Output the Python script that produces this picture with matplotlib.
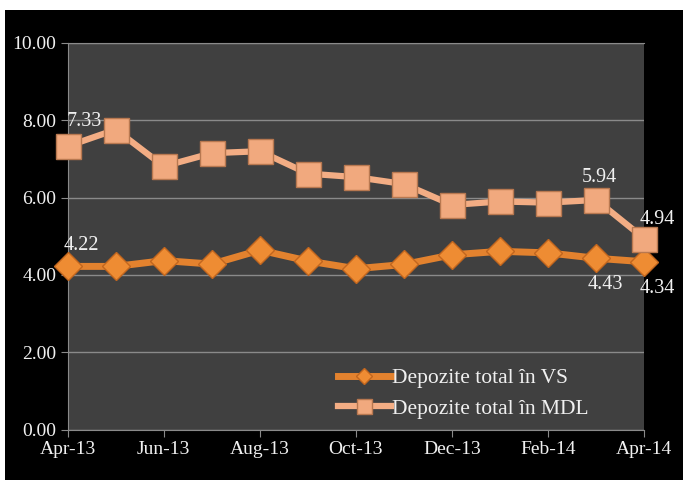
import matplotlib
matplotlib.use("Agg")
import matplotlib.pyplot as plt
from matplotlib.patches import Rectangle

months = ["Apr-13", "May-13", "Jun-13", "Jul-13", "Aug-13", "Sep-13", "Oct-13",
          "Nov-13", "Dec-13", "Jan-14", "Feb-14", "Mar-14", "Apr-14"]
vs_values = [4.22, 4.22, 4.37, 4.28, 4.64, 4.36, 4.16, 4.27, 4.52, 4.61, 4.57, 4.43, 4.34]
mdl_values = [7.33, 7.76, 6.81, 7.15, 7.20, 6.62, 6.53, 6.35, 5.81, 5.90, 5.87, 5.94, 4.94]
series_names = ["Depozite total în VS", "Depozite total în MDL"]
y_ticks = [0, 2, 4, 6, 8, 10]
y_tick_labels = ["0.00", "2.00", "4.00", "6.00", "8.00", "10.00"]

plt.rcParams['font.family'] = ['Liberation Serif', 'DejaVu Serif']

W, H = 683, 480
fig = plt.figure(figsize=(W / 100, H / 100), dpi=100, facecolor='white')
fig.patches.append(Rectangle((5 / W, 0), (W - 5) / W, (H - 10) / H,
                             transform=fig.transFigure, facecolor='black',
                             edgecolor='none', zorder=-10))

ax = fig.add_axes([67.7 / W, (H - 429.5) / H, (644.3 - 67.7) / W, (429.5 - 43) / H])
ax.set_facecolor('#404040')

x = list(range(len(months)))
text_col = '#f0f0f0'

ax.plot(x, vs_values, color='#E3822E', lw=5, marker='D', ms=14,
        markerfacecolor='#EE8C33', markeredgecolor='#C2661E', markeredgewidth=1,
        label=series_names[0], zorder=4, clip_on=False)
ax.plot(x, mdl_values, color='#F3AD84', lw=4.5, marker='s', ms=18,
        markerfacecolor='#F1A97E', markeredgecolor='#B87850', markeredgewidth=1,
        label=series_names[1], zorder=5, clip_on=False)

ax.set_ylim(0, 10)
ax.set_xlim(0, len(months) - 1)
ax.set_yticks(y_ticks)
ax.set_yticklabels(y_tick_labels)
ax.set_xticks(x[::2])
ax.set_xticklabels(months[::2])
ax.grid(axis='y', color='#8a8a8a', lw=1)
ax.set_axisbelow(True)
ax.spines['right'].set_visible(False)
for s in ['top', 'left', 'bottom']:
    ax.spines[s].set_color('#8a8a8a')
ax.tick_params(axis='both', colors='#8a8a8a', labelcolor=text_col, labelsize=14,
               length=5, direction='out', pad=3)

def lab(i, vals, dx, dy):
    ax.annotate(f"{vals[i]:.2f}", (x[i], vals[i]), xytext=(dx, dy),
                textcoords='offset pixels', ha='center', va='center',
                color=text_col, fontsize=14.5, zorder=6)

lab(0, mdl_values, 17, 25)
lab(0, vs_values, 14, 21)
lab(11, mdl_values, 3, 22)
lab(12, mdl_values, 13, 19)
lab(11, vs_values, 9, -26)
lab(12, vs_values, 13, -27)

leg = ax.legend(loc='center left', bbox_to_anchor=(0.4497, 0.093), frameon=False,
                fontsize=15.5, handlelength=2.45, handletextpad=0.05, borderpad=0,
                labelspacing=0.5, markerscale=0.6, labelcolor=text_col)

fig.savefig("out.png", dpi=100, facecolor='white')
